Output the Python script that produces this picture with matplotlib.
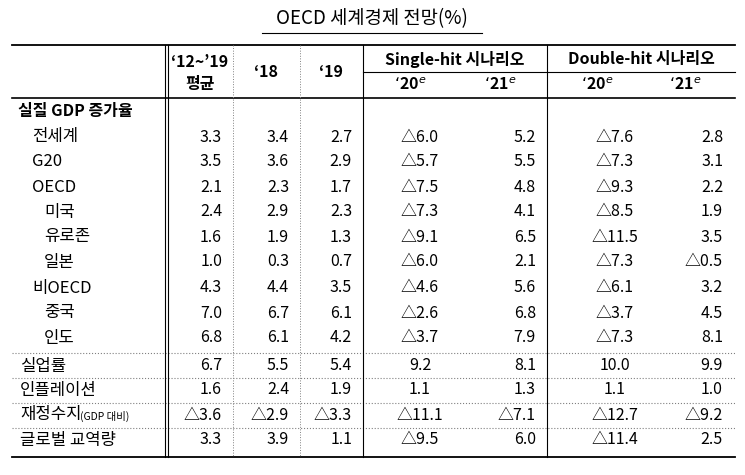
import matplotlib.pyplot as plt

plt.rcParams['font.family'] = ['Noto Sans CJK KR', 'DejaVu Sans']

labels = ['전세계', 'G20', 'OECD', '미국', '유로존', '일본', '비OECD', '중국', '인도',
          '실업률', '인플레이션', '재정수지', '글로벌 교역량']
indent = [1, 1, 1, 2, 2, 2, 1, 2, 2, 0, 0, 0, 0]
avg_12_19 = ['3.3', '3.5', '2.1', '2.4', '1.6', '1.0', '4.3', '7.0', '6.8', '6.7', '1.6', '△3.6', '3.3']
y18 = ['3.4', '3.6', '2.3', '2.9', '1.9', '0.3', '4.4', '6.7', '6.1', '5.5', '2.4', '△2.9', '3.9']
y19 = ['2.7', '2.9', '1.7', '2.3', '1.3', '0.7', '3.5', '6.1', '4.2', '5.4', '1.9', '△3.3', '1.1']
single_20 = ['△6.0', '△5.7', '△7.5', '△7.3', '△9.1', '△6.0', '△4.6', '△2.6', '△3.7', '9.2', '1.1', '△11.1', '△9.5']
single_21 = ['5.2', '5.5', '4.8', '4.1', '6.5', '2.1', '5.6', '6.8', '7.9', '8.1', '1.3', '△7.1', '6.0']
double_20 = ['△7.6', '△7.3', '△9.3', '△8.5', '△11.5', '△7.3', '△6.1', '△3.7', '△7.3', '10.0', '1.1', '△12.7', '△11.4']
double_21 = ['2.8', '3.1', '2.2', '1.9', '3.5', '△0.5', '3.2', '4.5', '8.1', '9.9', '1.0', '△9.2', '2.5']

fig = plt.figure(figsize=(7.45, 4.75), dpi=100)
ax = fig.add_axes([0, 0, 1, 1])
ax.set_xlim(0, 745)
ax.set_ylim(475, 0)
ax.axis('off')

fs = 11.5
# title
ax.text(372, 19, 'OECD 세계경제 전망(%)', ha='center', va='center', fontsize=13.5)
ax.plot([262, 482], [33, 33], color='black', lw=0.8)

# horizontal rules
ax.plot([12, 735], [45, 45], color='black', lw=1.3)
ax.plot([363, 735], [72, 72], color='black', lw=0.8)
ax.plot([12, 735], [98, 98], color='black', lw=1.2)
ax.plot([12, 735], [457, 457], color='black', lw=1.3)
for y in [353, 378, 403, 428]:
    ax.plot([12, 735], [y, y], color='gray', lw=0.8, ls=':')

# vertical rules
ax.plot([165, 165], [45, 457], color='black', lw=0.8)
ax.plot([168, 168], [45, 457], color='black', lw=0.8)
ax.plot([233, 233], [45, 457], color='gray', lw=0.7, ls=':')
ax.plot([300, 300], [45, 457], color='gray', lw=0.7, ls=':')
ax.plot([363, 363], [45, 457], color='black', lw=0.8)
ax.plot([547, 547], [45, 457], color='black', lw=0.8)

# header
bold = dict(fontsize=fs, fontweight='bold', va='center')
ax.text(200, 62, '\u201812~\u201919', ha='center', **bold)
ax.text(200, 84, '평균', ha='center', **bold)
ax.text(266, 72, '\u201818', ha='center', **bold)
ax.text(331, 72, '\u201819', ha='center', **bold)
ax.text(455, 59, 'Single-hit 시나리오', ha='center', **bold)
ax.text(641, 59, 'Double-hit 시나리오', ha='center', **bold)
for x, t in [(410, '\u201820$^e$'), (500, '\u201821$^e$'), (597, '\u201820$^e$'), (685, '\u201821$^e$')]:
    ax.text(x, 85, t, ha='center', **bold)
ax.text(18, 111, '실질 GDP 증가율', ha='left', **bold)

row_y = [137, 162, 187, 212, 237, 262, 288, 313, 338, 366, 390, 415, 440]
cols = [(avg_12_19, 222, 'right'), (y18, 289, 'right'), (y19, 352, 'right'),
        (single_20, 420, 'center'), (single_21, 536, 'right'),
        (double_20, 615, 'center'), (double_21, 723, 'right')]
for i, lab in enumerate(labels):
    y = row_y[i]
    ax.text(20 + 12 * indent[i], y, lab, ha='left', va='center', fontsize=fs + 0.5)
    if lab == '재정수지':
        ax.text(80, y + 1, '(GDP 대비)', ha='left', va='center', fontsize=7.5)
    for vals, x, ha in cols:
        ax.text(x, y, vals[i], ha=ha, va='center', fontsize=fs)

fig.savefig('out.png', dpi=100)
